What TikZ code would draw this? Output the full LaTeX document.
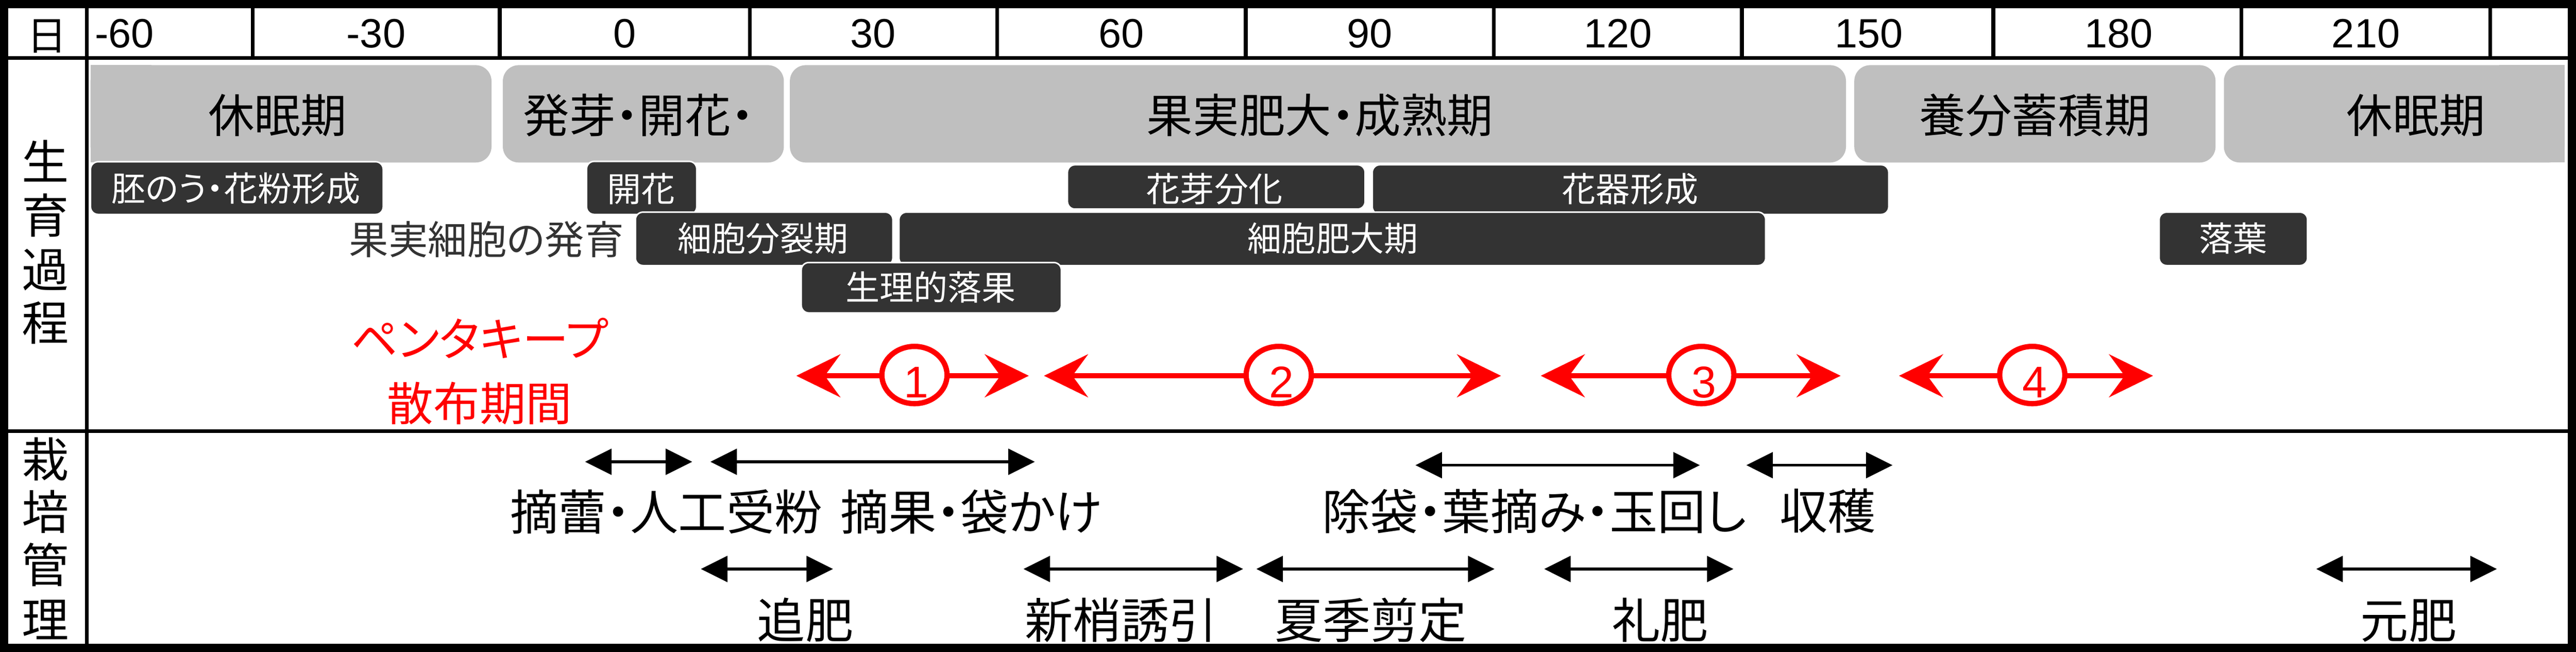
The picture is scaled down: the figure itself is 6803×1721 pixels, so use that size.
\documentclass[tikz,border=0pt]{standalone}
\usepackage{fontspec}
\setmainfont{Noto Sans CJK JP}[RawFeature=+palt]
\newfontfamily\numfont{Liberation Sans}
\usetikzlibrary{arrows.meta,shapes.geometric}
\definecolor{boxgray}{HTML}{BFBFBF}
\definecolor{boxdark}{HTML}{333333}
\definecolor{pred}{HTML}{FF0000}
\newcommand\pxfont[1]{\fontsize{#1}{#1}\selectfont}
\begin{document}
\begin{tikzpicture}[x=0.01cm,y=-0.01cm,
  gbox/.style={fill=boxgray, rounded corners=0.42cm},
  gsq/.style={fill=boxgray},
  dbox/.style={fill=boxdark, draw=white, line width=0.04cm, rounded corners=0.2cm},
  gtext/.style={anchor=base, inner sep=0, font=\pxfont{34.7pt}},
  dtext/.style={anchor=base, inner sep=0, text=white, font=\pxfont{25.6pt}},
  ctext/.style={anchor=base, inner sep=0, font=\pxfont{35.3pt}},
  btext/.style={anchor=base, inner sep=0, font=\pxfont{36.1pt}},
  ntext/.style={anchor=base, inner sep=0, font=\numfont\pxfont{30.7pt}},
  rtext/.style={anchor=base, inner sep=0, text=pred, font=\pxfont{34.7pt}},
  barrow/.style={line width=0.07cm, {Triangle[length=0.7cm,width=0.68cm]}-{Triangle[length=0.7cm,width=0.68cm]}},
  rarrow/.style={draw=pred, line width=0.14cm, {Stealth[length=1.16cm,width=1.13cm,inset=0.41cm]}-{Stealth[length=1.16cm,width=1.13cm,inset=0.41cm]}},
  rcirc/.style={ellipse, draw=pred, fill=white, line width=0.14cm, minimum width=1.72cm, minimum height=1.51cm, inner sep=0},
  rdig/.style={anchor=base, inner sep=0, text=pred, font=\numfont\pxfont{33.3pt}},
  tline/.style={line width=0.1cm}
]
\path[use as bounding box, fill=white] (0,0) rectangle (6803,1721);

% ---- gray stage boxes ----
\path[gbox] (239,172) rectangle (1298,429);
\path[gsq] (239,172) rectangle (400,429);
\path[gbox] (1328,172) rectangle (2070,429);
\path[gbox] (2086,172) rectangle (4875,429);
\path[gbox] (4897,172) rectangle (5851,429);
\path[gbox] (5873,172) rectangle (6773,429);
\path[gsq] (6600,172) rectangle (6773,429);

\node[gtext] (g1) at (733,351) {休眠期};
\node[gtext] (g2) at (1687,351) {発芽・開花・};
\node[gtext] (g3) at (3486,351) {果実肥大・成熟期};
\node[gtext] (g4) at (5374,351) {養分蓄積期};
\node[gtext] (g5) at (6380,351) {休眠期};

% ---- dark boxes ----
\path[dbox] (239,427) rectangle (1012,566);
\path[dbox] (1549,426) rectangle (1840,566);
\path[dbox] (2819,435) rectangle (3605,552);
\path[dbox] (3624,435) rectangle (4988,566);
\path[dbox] (1678,560) rectangle (2358,701);
\path[dbox] (2374,560) rectangle (4663,701);
\path[dbox] (5702,560) rectangle (6094,701);
\path[dbox] (2116,693) rectangle (2803,826);

\node[dtext] (b1) at (623,531) {胚のう・花粉形成};
\node[dtext] (b2) at (1693,532) {開花};
\node[dtext] (b3) at (3207,532) {花芽分化};
\node[dtext] (b4) at (4305,532) {花器形成};
\node[dtext] (b5) at (2015,663) {細胞分裂期};
\node[dtext] (b6) at (3520,663) {細胞肥大期};
\node[dtext] (b7) at (5897,663) {落葉};
\node[dtext] (b8) at (2458,793) {生理的落果};

\node[anchor=base east, inner sep=0, text=boxdark, font=\pxfont{29.6pt}] (fc) at (1648,671) {果実細胞の発育};

% ---- red text ----
\node[rtext] (p1) at (1267,941) {ペンタキープ};
\node[rtext] (p2) at (1267,1111) {散布期間};

% ---- red arrows ----
\coordinate (r1a) at (2103,992); \coordinate (r1b) at (2717,992);
\coordinate (r2a) at (2757,992); \coordinate (r2b) at (3964,992);
\coordinate (r3a) at (4069,992); \coordinate (r3b) at (4861,992);
\coordinate (r4a) at (5015,992); \coordinate (r4b) at (5686,992);
\draw[rarrow] (r1a) -- (r1b);
\draw[rarrow] (r2a) -- (r2b);
\draw[rarrow] (r3a) -- (r3b);
\draw[rarrow] (r4a) -- (r4b);
\node[rcirc] (c1) at (2415,990) {};
\node[rcirc] (c2) at (3377,990) {};
\node[rcirc] (c3) at (4493,990) {};
\node[rcirc] (c4) at (5367,990) {};
\node[rdig] (d1) at (2420,1050) {1};
\node[rdig] (d2) at (3384,1050) {2};
\node[rdig] (d3) at (4500,1050) {3};
\node[rdig] (d4) at (5374,1050) {4};

% ---- cultivation arrows ----
\coordinate (k1a) at (1545,1219); \coordinate (k1b) at (1828,1219);
\coordinate (k2a) at (1876,1219); \coordinate (k2b) at (2733,1219);
\coordinate (k3a) at (3738,1228); \coordinate (k3b) at (4489,1228);
\coordinate (k4a) at (4612,1228); \coordinate (k4b) at (4998,1228);
\coordinate (m1a) at (1851,1502); \coordinate (m1b) at (2200,1502);
\coordinate (m2a) at (2703,1502); \coordinate (m2b) at (3283,1502);
\coordinate (m3a) at (3318,1502); \coordinate (m3b) at (3947,1502);
\coordinate (m4a) at (4078,1502); \coordinate (m4b) at (4578,1502);
\coordinate (m5a) at (6117,1502); \coordinate (m5b) at (6594,1502);
\draw[barrow] (k1a) -- (k1b);
\draw[barrow] (k2a) -- (k2b);
\draw[barrow] (k3a) -- (k3b);
\draw[barrow] (k4a) -- (k4b);
\draw[barrow] (m1a) -- (m1b);
\draw[barrow] (m2a) -- (m2b);
\draw[barrow] (m3a) -- (m3b);
\draw[barrow] (m4a) -- (m4b);
\draw[barrow] (m5a) -- (m5b);

\node[btext] (t1) at (1760,1400) {摘蕾・人工受粉};
\node[btext] (t2) at (2565,1400) {摘果・袋かけ};
\node[btext] (t3) at (4052,1398) {除袋・葉摘み・玉回し};
\node[btext] (t4) at (4827,1396) {収穫};
\node[btext] (u1) at (2127,1685) {追肥};
\node[btext] (u2) at (2961,1685) {新梢誘引};
\node[btext] (u3) at (3620,1685) {夏季剪定};
\node[btext] (u4) at (4385,1685) {礼肥};
\node[btext] (u5) at (6361,1685) {元肥};

% ---- left column ----
\node[anchor=base, inner sep=0, font=\pxfont{29.9pt}] (hd) at (124,132) {日};
\node[ctext] (l1) at (120,474) {生};
\node[ctext] (l2) at (120,615) {育};
\node[ctext] (l3) at (120,758) {過};
\node[ctext] (l4) at (120,898) {程};
\node[ctext] (s1) at (120,1259) {栽};
\node[ctext] (s2) at (120,1398) {培};
\node[ctext] (s3) at (120,1538) {管};
\node[ctext] (s4) at (120,1683) {理};

% ---- header numbers ----
\node[ntext, anchor=base west] (n0) at (250,126) {-60};
\node[ntext] (n1) at (993,126) {-30};
\node[ntext] (n2) at (1650,126) {0};
\node[ntext] (n3) at (2306,126) {30};
\node[ntext] (n4) at (2961,126) {60};
\node[ntext] (n5) at (3617,126) {90};
\node[ntext] (n6) at (4273,126) {120};
\node[ntext] (n7) at (4936,126) {150};
\node[ntext] (n8) at (5596,126) {180};
\node[ntext] (n9) at (6248,126) {210};

% ---- table lines ----
\draw[tline] (10,153) -- (6792,153);
\draw[tline] (10,1138) -- (6792,1138);
\draw[tline] (229,10) -- (229,1709);
\foreach \x in {667,1320,1980,2633,3290,3945,4600,5264,5919,6576}
  \draw[tline] (\x,10) -- (\x,153);
\draw[line width=0.22cm] (11,11) rectangle (6792,1710);
\end{tikzpicture}
\end{document}
